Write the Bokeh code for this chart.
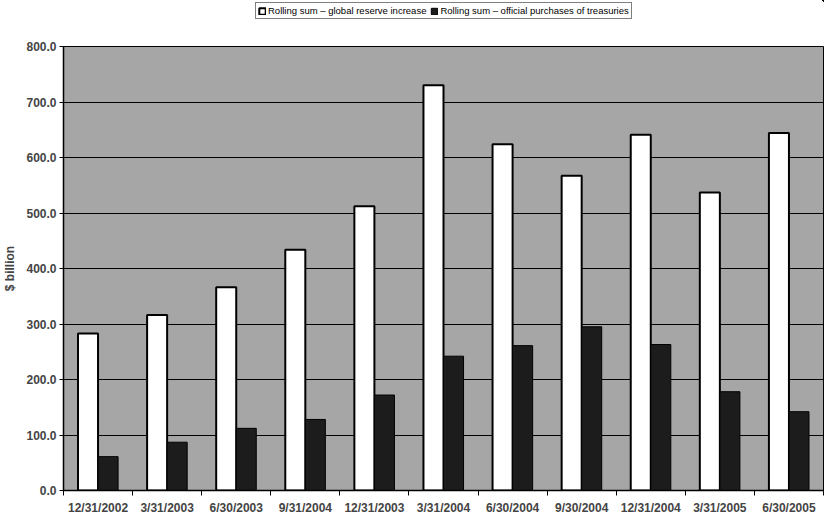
import numpy as np
from bokeh.plotting import figure
from bokeh.layouts import column
from bokeh.models import (ColumnDataSource, FixedTicker, Legend, LegendItem,
                          Range1d, NumeralTickFormatter)
from bokeh.transform import dodge
from bokeh.embed import file_html
from bokeh.resources import INLINE

# Quarter-end dates and rolling four-quarter sums ($ billion)
dates = ["12/31/2002", "3/31/2003", "6/30/2003", "9/31/2004", "12/31/2003",
         "3/31/2004", "6/30/2004", "9/30/2004", "12/31/2004", "3/31/2005",
         "6/30/2005"]
reserve_increase = [283, 316, 366, 434, 512, 730, 624, 567, 641, 537, 644]
treasury_purchases = [61, 87, 112, 128, 172, 242, 261, 295, 263, 178, 142]
y_ticks = [0, 100, 200, 300, 400, 500, 600, 700, 800]
series_names = ["Rolling sum \u2013 global reserve increase",
                "Rolling sum \u2013 official purchases of treasuries"]

FONT = "Liberation Sans"
RESERVE_STYLE = dict(fill_color="white", line_color="black", line_width=2)
TREASURY_STYLE = dict(fill_color="#1c1c1c", line_color="black", line_width=1)

centers = np.arange(len(dates)) + 0.5
src = ColumnDataSource(dict(x=centers, reserve=reserve_increase,
                            treasury=treasury_purchases))

p = figure(width=831, height=493, output_backend="svg", toolbar_location=None,
           x_range=Range1d(0, len(dates)), y_range=Range1d(0, 800),
           min_border_left=63, min_border_right=8, min_border_top=22,
           min_border_bottom=24)
p.background_fill_color = "#a6a6a6"
p.border_fill_color = "white"
p.outline_line_color = "black"
p.outline_line_width = 1

p.vbar(x=dodge("x", -0.145), top="reserve", width=0.29, source=src,
       **RESERVE_STYLE)
p.vbar(x=dodge("x", 0.145), top="treasury", width=0.29, source=src,
       **TREASURY_STYLE)

# y axis
p.yaxis.ticker = FixedTicker(ticks=y_ticks)
p.yaxis.formatter = NumeralTickFormatter(format="0.0")
p.yaxis.axis_label = "$ billion"
p.yaxis.axis_label_text_font = FONT
p.yaxis.axis_label_text_font_style = "bold"
p.yaxis.axis_label_text_font_size = "12px"
p.yaxis.axis_label_standoff = 6
p.yaxis.major_label_text_font = FONT
p.yaxis.major_label_text_font_style = "bold"
p.yaxis.major_label_text_font_size = "12px"
p.yaxis.major_label_standoff = 3
p.yaxis.major_tick_in = 0
p.yaxis.major_tick_out = 4
p.yaxis.minor_tick_line_color = None
p.yaxis.axis_line_width = 1.5

# x axis: labels at category centres, tick marks at category boundaries
p.xaxis.ticker = FixedTicker(ticks=list(centers),
                             minor_ticks=list(range(len(dates) + 1)))
p.xaxis.major_label_overrides = {float(c): d for c, d in zip(centers, dates)}
p.xaxis.major_tick_in = 0
p.xaxis.major_tick_out = 0
p.xaxis.minor_tick_in = 0
p.xaxis.minor_tick_out = 5
p.xaxis.minor_tick_line_color = "black"
p.xaxis.major_label_text_font = FONT
p.xaxis.major_label_text_font_style = "bold"
p.xaxis.major_label_text_font_size = "12px"
p.xaxis.axis_line_width = 1.5

p.xgrid.visible = False
p.ygrid.ticker = FixedTicker(ticks=y_ticks)
p.ygrid.grid_line_color = "black"
p.ygrid.grid_line_width = 1.2

# header strip carrying the legend above the chart; its key renderers
# share the series data but the strip's ranges keep them out of view
hdr = figure(width=831, height=24, output_backend="svg", toolbar_location=None,
             x_range=Range1d(-100, -99), y_range=Range1d(-100, -99),
             min_border=0, outline_line_color=None)
hdr.axis.visible = False
hdr.grid.visible = False
k_res = hdr.vbar(x="x", top="reserve", width=0.29, source=src, **RESERVE_STYLE)
k_tre = hdr.vbar(x="x", top="treasury", width=0.29, source=src, **TREASURY_STYLE)

legend = Legend(items=[
    LegendItem(label=series_names[0], renderers=[k_res]),
    LegendItem(label=series_names[1], renderers=[k_tre]),
], orientation="horizontal", location=(192, 5))
legend.label_text_font = FONT
legend.label_text_font_size = "9.5px"
legend.label_text_color = "black"
legend.glyph_height = 8
legend.glyph_width = 8
legend.label_standoff = 2
legend.spacing = 4
legend.padding = 2
legend.margin = 0
legend.label_height = 8
legend.border_line_color = "black"
legend.border_line_width = 1.5
hdr.add_layout(legend)

layout = column(hdr, p, spacing=0)
open("out.html", "w").write(file_html(layout, INLINE))
